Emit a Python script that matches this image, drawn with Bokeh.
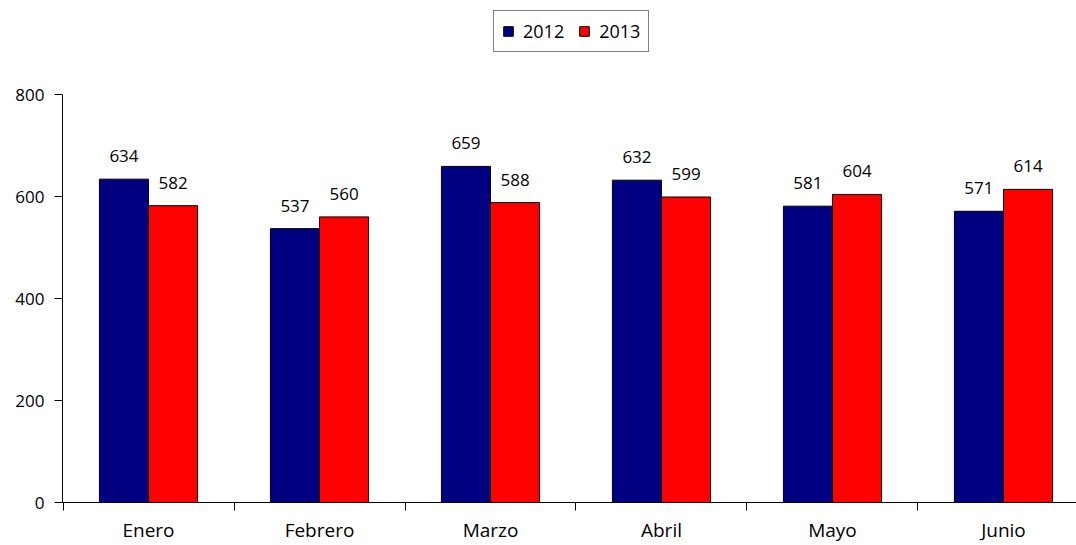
from bokeh.plotting import figure
from bokeh.models import ColumnDataSource, FixedTicker, Legend, LegendItem, Range1d, LabelSet
from bokeh.transform import dodge
from bokeh.core.properties import value
from bokeh.embed import file_html
from bokeh.resources import INLINE

months = ["Enero", "Febrero", "Marzo", "Abril", "Mayo", "Junio"]
v2012 = [634, 537, 659, 632, 581, 571]
v2013 = [582, 560, 588, 599, 604, 614]
y_ticks = [0, 200, 400, 600, 800]
series_names = ["2012", "2013"]

pos = [i + 0.5 for i in range(len(months))]
src = ColumnDataSource(dict(
    x=pos, m=months, a=v2012, b=v2013,
    la=[str(v) for v in v2012], lb=[str(v) for v in v2013],
))

FONT = "Open Sans"
W = 0.287
OFF = 0.1435

p = figure(width=1076, height=545, output_backend="svg", toolbar_location=None,
           x_range=Range1d(-0.003, 5.927), y_range=Range1d(0, 800 * 502 / 408),
           min_border_left=62, min_border_right=0, min_border_top=0, min_border_bottom=43)
p.outline_line_color = None
p.xgrid.visible = False
p.ygrid.visible = False
p.background_fill_color = "white"

r1 = p.vbar(x=dodge("x", -OFF), top="a", width=W, bottom=0, source=src,
            fill_color="#000080", line_color="black", line_width=1)
r2 = p.vbar(x=dodge("x", OFF), top="b", width=W, bottom=0, source=src,
            fill_color="#FF0000", line_color="black", line_width=1)

for col, ycol, off in (("la", "a", -OFF), ("lb", "b", OFF)):
    lbl = LabelSet(x=dodge("x", off), y=ycol, text=col, source=src,
                   text_align="center", text_baseline="alphabetic", y_offset=17,
                   text_font=value(FONT), text_font_size="17px", text_color="black")
    p.add_layout(lbl)

# x axis
xa = p.xaxis[0]
xa.ticker = FixedTicker(ticks=pos, minor_ticks=[0, 1, 2, 3, 4, 5, 6])
xa.major_label_overrides = {pv: m for pv, m in zip(pos, months)}
xa.major_label_standoff = 6
xa.major_label_text_font = FONT
xa.major_label_text_font_size = "19px"
xa.major_label_text_color = "black"
xa.major_tick_out = 0
xa.major_tick_in = 0
xa.major_tick_line_color = None
xa.minor_tick_out = 8
xa.minor_tick_in = 0
xa.minor_tick_line_color = "black"
xa.axis_line_color = "black"

# y axis
ya = p.yaxis[0]
ya.ticker = FixedTicker(ticks=y_ticks)
ya.bounds = (0, 800)
ya.minor_tick_line_color = None
ya.major_tick_out = 8
ya.major_tick_in = 0
ya.major_tick_line_color = "black"
ya.axis_line_color = "black"
ya.major_label_standoff = 10
ya.major_label_text_font = FONT
ya.major_label_text_font_size = "17px"
ya.major_label_text_color = "black"

legend = Legend(items=[LegendItem(label=series_names[0], renderers=[r1]),
                       LegendItem(label=series_names[1], renderers=[r2])],
                orientation="horizontal", location=(431, 450),
                border_line_color="black", border_line_width=1,
                glyph_width=12, glyph_height=12, label_height=20,
                label_standoff=9, spacing=14, padding=8, margin=0,
                label_text_font=FONT, label_text_font_size="18px",
                label_text_color="black", background_fill_alpha=1)
p.add_layout(legend, "center")

open("out.html", "w").write(file_html(p, INLINE))
